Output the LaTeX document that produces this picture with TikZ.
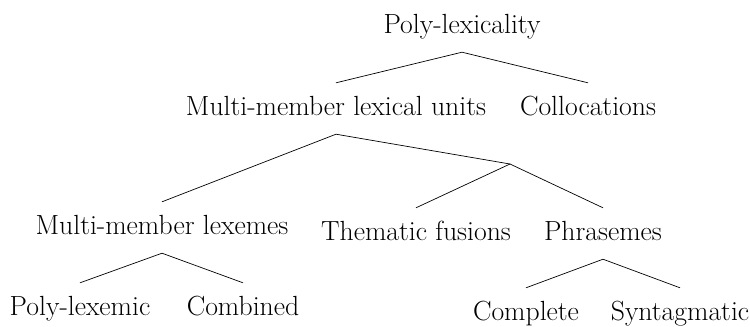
\documentclass[tikz,border=0pt]{standalone}
\begin{document}
\begin{tikzpicture}[x=1bp,y=-1bp,
  lbl/.style={anchor=base,inner xsep=0pt,inner ysep=0pt,text height=32bp,text depth=19bp,
    font=\fontsize{27.8}{32}\selectfont},
  edge/.style={draw=black,line width=0.7pt}]
\useasboundingbox (0,0) rectangle (750,326);
\node[lbl] (pl) at (462,33) {Poly-lexicality};
\node[lbl] (mmlu) at (336,115) {Multi-member lexical units};
\node[lbl] (col) at (588,115) {Collocations};
\node[lbl] (mml) at (162,234) {Multi-member lexemes};
\coordinate (j) at (510,164);
\node[lbl] (tf) at (416,240) {Thematic fusions};
\node[lbl] (ph) at (603,240) {Phrasemes};
\node[lbl] (plx) at (80,315) {Poly-lexemic};
\node[lbl] (cmb) at (243,315) {Combined};
\node[lbl] (cpl) at (526,320) {Complete};
\node[lbl] (syn) at (680,320) {Syntagmatic};
\draw[edge] (mmlu.north) -- (pl.south) -- (col.north);
\draw[edge] (mml.north) -- (mmlu.south) -- (j);
\draw[edge] (tf.north) -- (j) -- (ph.north);
\draw[edge] (plx.north) -- (mml.south) -- (cmb.north);
\draw[edge] (cpl.north) -- (ph.south) -- (syn.north);
\end{tikzpicture}
\end{document}
